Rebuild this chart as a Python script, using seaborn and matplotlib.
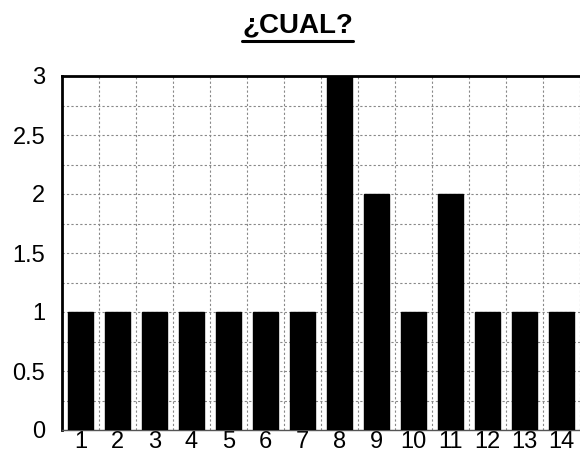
import matplotlib
matplotlib.use("Agg")
import matplotlib.pyplot as plt
from matplotlib.lines import Line2D
from matplotlib.ticker import MultipleLocator, FixedLocator
import seaborn as sns
import pandas as pd

categories = ["1", "2", "3", "4", "5", "6", "7", "8", "9", "10", "11", "12", "13", "14"]
values = [1, 1, 1, 1, 1, 1, 1, 3, 2, 1, 2, 1, 1, 1]
yticks = [0, 0.5, 1, 1.5, 2, 2.5, 3]
ytick_labels = ["0", "0.5", "1", "1.5", "2", "2.5", "3"]
title = "¿CUAL?"

sns.set_theme(style="white")
plt.rcParams["font.family"] = ["Liberation Sans", "DejaVu Sans"]

df = pd.DataFrame({"cat": categories, "val": values})

fig = plt.figure(figsize=(5.8, 4.59), dpi=100)
ax = fig.add_axes([62 / 580, (459 - 430) / 459, 518 / 580, (430 - 76) / 459])

sns.barplot(data=df, x="cat", y="val", order=categories, color="black",
            width=0.68, saturation=1, ax=ax, zorder=3)
for p in ax.patches:
    p.set_edgecolor("black")

ax.set_xlim(-0.5, len(categories) - 0.5)
ax.set_ylim(0, 3)
ax.set_yticks(yticks)
ax.set_yticklabels(ytick_labels)
ax.yaxis.set_minor_locator(MultipleLocator(0.25))
ax.xaxis.set_minor_locator(FixedLocator([i + 0.5 for i in range(len(categories))]))
ax.set_xlabel("")
ax.set_ylabel("")

ax.grid(False)
ax.grid(which="both", axis="y", color="#888888", linestyle=(0, (2, 2)), linewidth=0.8, zorder=0)
ax.grid(which="minor", axis="x", color="#888888", linestyle=(0, (2, 2)), linewidth=0.8, zorder=0)
ax.set_axisbelow(True)

ax.tick_params(axis="both", which="both", length=0, labelsize=17, colors="black")
ax.tick_params(axis="x", pad=1)
ax.tick_params(axis="y", pad=12)

for side in ["left", "top"]:
    ax.spines[side].set_visible(True)
    ax.spines[side].set_color("black")
    ax.spines[side].set_linewidth(2)
ax.spines["bottom"].set_visible(True)
ax.spines["bottom"].set_color("#555555")
ax.spines["bottom"].set_linewidth(1)
ax.spines["right"].set_visible(False)

t = fig.text(0.513, 1 - 25 / 459, title, ha="center", va="center",
             fontsize=20, fontweight="bold", color="black")
fig.canvas.draw()
bb = t.get_window_extent(renderer=fig.canvas.get_renderer())
bbf = bb.transformed(fig.transFigure.inverted())
yline = 1 - 41 / 459
fig.add_artist(Line2D([bbf.x0, bbf.x1], [yline, yline], transform=fig.transFigure,
                      color="black", linewidth=2.2))

fig.savefig("out.png", dpi=100)
